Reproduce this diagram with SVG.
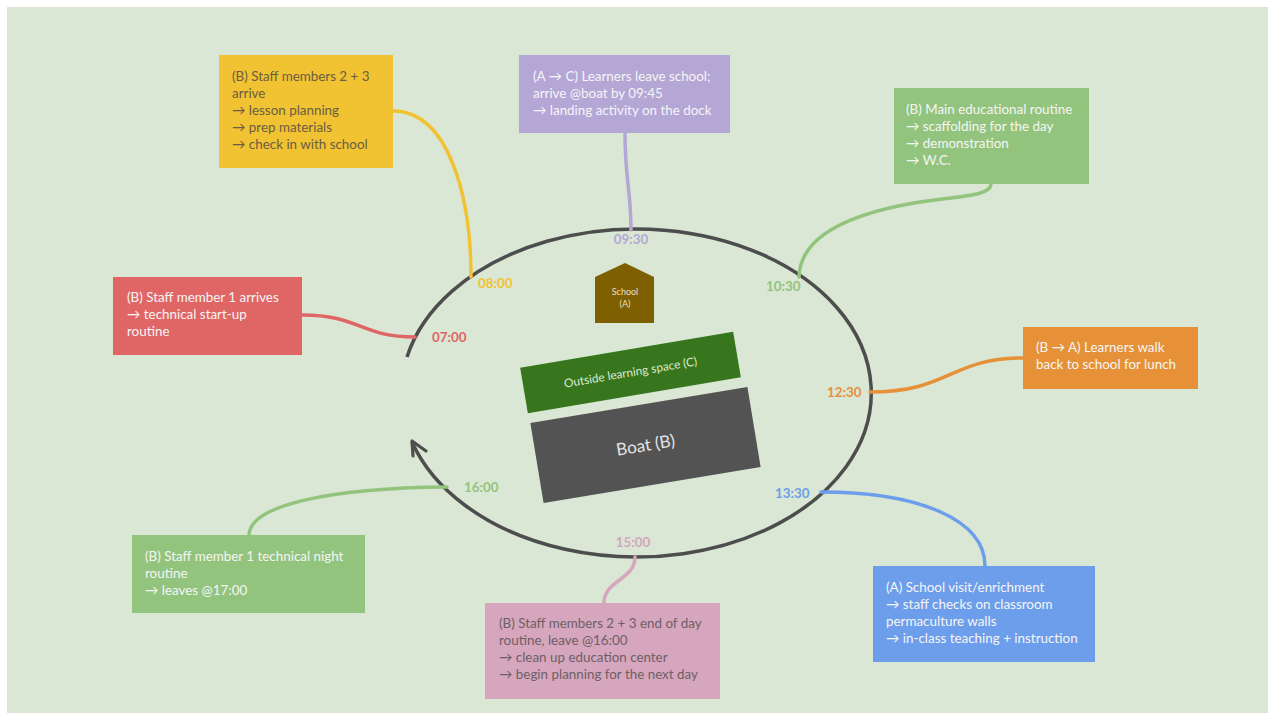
<svg xmlns="http://www.w3.org/2000/svg" width="1268" height="713" viewBox="0 0 1268 713">
<defs>
<style>
.bx text{font-family:Lato,"Open Sans","Noto Sans",sans-serif;font-size:13.4px;fill:#f5f5f5}
.dk text{fill:#6a5d45}
.pk text{fill:#6e5f66}
.lbl{font-family:Lato,"Open Sans","Noto Sans",sans-serif;font-size:13.4px;font-weight:700}
.con path{fill:none;stroke-width:3.5;stroke-linecap:round}
</style>
</defs>
<rect x="0" y="0" width="1268" height="713" fill="#ffffff"/>
<rect x="7" y="7" width="1261" height="706" fill="#d9e7d4"/>

<g id="cycle">
<path d="M407,357 A235,164 0 1 1 412,442" fill="none" stroke="#4d4d4d" stroke-width="3.5"/>
<path d="M412,441 L413,456 M412,441 L426,451" fill="none" stroke="#4d4d4d" stroke-width="3.2" stroke-linecap="round"/>
</g>

<g id="connectors" class="con">
<path d="M393,111 C450,111 471,200 471,277" stroke="#f1c232"/>
<path d="M302,315 C360,315 360,337 415,337" stroke="#e06666"/>
<path d="M625,133 C625,180 631,190 631,230" stroke="#b4a7d6"/>
<path d="M991,184 C991,196 960,196 920,202 C840,215 800,240 799,277" stroke="#93c47d"/>
<path d="M1023,358 C950,358 950,392 870,392" stroke="#e69138"/>
<path d="M821,492 C920,492 985,520 985,566" stroke="#6d9eeb"/>
<path d="M635,557 C635,580 604,580 604,603" stroke="#d5a6bd"/>
<path d="M447,487 C330,488 250,505 249,535" stroke="#93c47d"/>
</g>

<g id="labels">
<text class="lbl" x="432" y="342" fill="#e06666">07:00</text>
<text class="lbl" x="478" y="288" fill="#f1c232">08:00</text>
<text class="lbl" x="631" y="244" fill="#b4a7d6" text-anchor="middle">09:30</text>
<text class="lbl" x="766" y="291" fill="#93c47d">10:30</text>
<text class="lbl" x="827" y="397" fill="#e69138">12:30</text>
<text class="lbl" x="775" y="498" fill="#6d9eeb">13:30</text>
<text class="lbl" x="633" y="547" fill="#d5a6bd" text-anchor="middle">15:00</text>
<text class="lbl" x="464" y="492" fill="#93c47d">16:00</text>
</g>

<g id="school">
<polygon points="625,263 654,277 654,323 595,323 595,277" fill="#7f6000"/>
<text x="625" y="295" font-family="Lato,'Open Sans',sans-serif" font-size="9" fill="#eadfc4" text-anchor="middle">School</text>
<text x="625" y="307" font-family="Lato,'Open Sans',sans-serif" font-size="9" fill="#eadfc4" text-anchor="middle">(A)</text>
</g>

<g id="outside" transform="translate(630.5,372.5) rotate(-9.6)">
<rect x="-108" y="-23" width="216" height="46" fill="#38761d"/>
<text x="0" y="4" font-family="Lato,'Open Sans',sans-serif" font-size="11.8" fill="#d9ead3" text-anchor="middle">Outside learning space (C)</text>
</g>

<g id="boat" transform="translate(645.5,445) rotate(-9.4)">
<rect x="-110" y="-40.5" width="220" height="81" fill="#535353"/>
<text x="0" y="6" font-family="Lato,'Open Sans',sans-serif" font-size="17" fill="#e3e3e3" text-anchor="middle">Boat (B)</text>
</g>

<g id="n0800" class="bx dk">
<rect x="219" y="55" width="174" height="113" fill="#f1c232"/>
<text x="232" y="81">(B) Staff members 2 + 3</text>
<text x="232" y="98">arrive</text>
<text x="232" y="115">→ lesson planning</text>
<text x="232" y="132">→ prep materials</text>
<text x="232" y="149">→ check in with school</text>
</g>

<g id="n0700" class="bx">
<rect x="113" y="277" width="189" height="78" fill="#e06666"/>
<text x="127" y="302">(B) Staff member 1 arrives</text>
<text x="127" y="319">→ technical start-up</text>
<text x="127" y="336">routine</text>
</g>

<g id="n0930" class="bx">
<rect x="519" y="55" width="211" height="78" fill="#b4a7d6"/>
<text x="533" y="81">(A → C) Learners leave school;</text>
<text x="533" y="98">arrive @boat by 09:45</text>
<text x="533" y="115">→ landing activity on the dock</text>
</g>

<g id="n1030" class="bx">
<rect x="894" y="88" width="195" height="96" fill="#93c47d"/>
<text x="906" y="114">(B) Main educational routine</text>
<text x="906" y="131">→ scaffolding for the day</text>
<text x="906" y="148">→ demonstration</text>
<text x="906" y="165">→ W.C.</text>
</g>

<g id="n1230" class="bx">
<rect x="1023" y="327" width="175" height="62" fill="#e69138"/>
<text x="1036" y="352">(B → A) Learners walk</text>
<text x="1036" y="369">back to school for lunch</text>
</g>

<g id="n1330" class="bx">
<rect x="873" y="566" width="222" height="96" fill="#6d9eeb"/>
<text x="886" y="592">(A) School visit/enrichment</text>
<text x="886" y="609">→ staff checks on classroom</text>
<text x="886" y="626">permaculture walls</text>
<text x="886" y="643">→ in-class teaching + instruction</text>
</g>

<g id="n1500" class="bx pk">
<rect x="485" y="603" width="235" height="96" fill="#d5a6bd"/>
<text x="499" y="628">(B) Staff members 2 + 3 end of day</text>
<text x="499" y="645">routine, leave @16:00</text>
<text x="499" y="662">→ clean up education center</text>
<text x="499" y="679">→ begin planning for the next day</text>
</g>

<g id="n1600" class="bx">
<rect x="132" y="535" width="233" height="78" fill="#93c47d"/>
<text x="145" y="561">(B) Staff member 1 technical night</text>
<text x="145" y="578">routine</text>
<text x="145" y="595">→ leaves @17:00</text>
</g>
</svg>
